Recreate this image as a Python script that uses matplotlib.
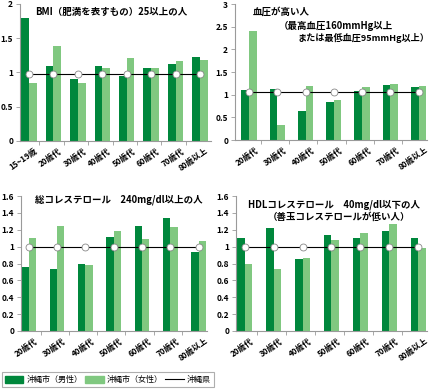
import numpy as np
import matplotlib
matplotlib.use("Agg")
import matplotlib.pyplot as plt
from matplotlib.patches import Patch
from matplotlib.lines import Line2D

plt.rcParams["font.family"] = ["Noto Sans CJK JP", "DejaVu Sans"]

# --- data (ratio, 沖縄県 = reference) ---
ages_bmi = ["15~19歳", "20歳代", "30歳代", "40歳代", "50歳代", "60歳代", "70歳代", "80歳以上"]
ages = ["20歳代", "30歳代", "40歳代", "50歳代", "60歳代", "70歳代", "80歳以上"]

bmi_male = [1.80, 1.09, 0.91, 1.09, 0.95, 1.07, 1.12, 1.22]
bmi_female = [0.84, 1.38, 0.85, 1.06, 1.21, 1.07, 1.17, 1.18]
bmi_pref = 0.98

bp_male = [1.10, 1.13, 0.64, 0.83, 1.08, 1.21, 1.16]
bp_female = [2.40, 0.33, 1.19, 0.88, 1.16, 1.23, 1.19]
bp_pref = 1.05

chol_male = [0.76, 0.74, 0.79, 1.11, 1.25, 1.34, 0.94]
chol_female = [1.10, 1.24, 0.78, 1.19, 1.09, 1.23, 1.07]
chol_pref = 0.99

hdl_male = [1.10, 1.22, 0.85, 1.14, 1.10, 1.19, 1.10]
hdl_female = [0.79, 0.73, 0.87, 1.08, 1.16, 1.27, 0.98]
hdl_pref = 0.99

DARK = "#00873c"
LIGHT = "#80c880"
GRAY = "#9a9a9a"

fig = plt.figure(figsize=(4.31, 3.92), dpi=100)


def panel(rect, labels, male, female, pref, ylim, yticks, ytl, xlim, bw):
    ax = fig.add_axes(rect)
    x = np.arange(len(labels))
    ax.bar(x, male, width=-bw, align="edge", color=DARK, zorder=2)
    ax.bar(x, female, width=bw, align="edge", color=LIGHT, zorder=2)
    ax.plot([x[0], x[-1]], [pref, pref], color="black", lw=0.8, zorder=3)
    ax.plot(x, [pref] * len(x), "o", ms=5, mfc="white", mec="#888888",
            mew=0.6, zorder=4, clip_on=False)
    ax.set_xlim(*xlim)
    ax.set_ylim(*ylim)
    ax.set_yticks(yticks)
    ax.set_yticklabels(ytl, fontsize=6, fontweight="bold")
    ax.set_xticks(x[:-1] + 0.42, minor=False)
    ax.set_xticklabels([])
    ax.tick_params(axis="x", length=3, color=GRAY, width=0.6)
    ax.tick_params(axis="y", length=3, color=GRAY, width=0.6, pad=2)
    for s in ["top", "right"]:
        ax.spines[s].set_visible(False)
    for s in ["left", "bottom"]:
        ax.spines[s].set_color(GRAY)
        ax.spines[s].set_linewidth(0.8)
    for i, lab in enumerate(labels):
        ax.text(i + 0.2, -0.04, lab, transform=ax.get_xaxis_transform(),
                rotation=35, ha="right", va="top", rotation_mode="anchor",
                fontsize=5.8, fontweight="bold")
    return ax


ax1 = panel([20 / 431, 1 - 141 / 392, 191 / 431, 137 / 392], ages_bmi,
            bmi_male, bmi_female, bmi_pref, (0, 2), [0, 0.5, 1, 1.5, 2],
            ["0", "0.5", "1", "1.5", "2"], (-0.37, 7.45), 0.315)
ax1.text(35 / 431, 1 - 12 / 392, "BMI（肥満を表すもの）25以上の人",
         transform=fig.transFigure, fontsize=6.8, fontweight="bold", va="center")

ax2 = panel([235 / 431, 1 - 140 / 392, 192 / 431, 136 / 392], ages,
            bp_male, bp_female, bp_pref, (0, 3), [0, 0.5, 1, 1.5, 2, 2.5, 3],
            ["0", "0.5", "1", "1.5", "2", "2.5", "3"], (-0.5, 6.3), 0.27)
fig.text(253 / 431, 1 - 12 / 392, "血圧が高い人", fontsize=6.8, fontweight="bold", va="center")
fig.text(279 / 431, 1 - 26 / 392, "（最高血圧160mmHg以上", fontsize=6.8, fontweight="bold", va="center")
fig.text(429 / 431, 1 - 38 / 392, "または最低血圧95mmHg以上）", fontsize=6.6,
         fontweight="bold", va="center", ha="right")

cyt = [0, 0.2, 0.4, 0.6, 0.8, 1, 1.2, 1.4, 1.6]
cytl = ["0", "0.2", "0.4", "0.6", "0.8", "1", "1.2", "1.4", "1.6"]
ax3 = panel([21 / 431, 1 - 331 / 392, 186 / 431, 135 / 392], ages,
            chol_male, chol_female, chol_pref, (0, 1.6), cyt, cytl, (-0.27, 6.3), 0.26)
fig.text(35 / 431, 1 - 200 / 392, "総コレステロール　240mg/dl以上の人",
         fontsize=6.8, fontweight="bold", va="center")

ax4 = panel([236 / 431, 1 - 331 / 392, 191 / 431, 135 / 392], ages,
            hdl_male, hdl_female, hdl_pref, (0, 1.6), cyt, cytl, (-0.3, 6.3), 0.26)
fig.text(248 / 431, 1 - 205 / 392, "HDLコレステロール　40mg/dl以下の人",
         fontsize=6.8, fontweight="bold", va="center")
fig.text(268 / 431, 1 - 217 / 392, "（善玉コレステロールが低い人）",
         fontsize=6.8, fontweight="bold", va="center")

handles = [Patch(color=DARK), Patch(color=LIGHT), Line2D([], [], color="black", lw=0.8)]
leg = fig.legend(handles, ["沖縄市（男性）", "沖縄市（女性）", "沖縄県"], ncol=3,
                 loc="lower left", bbox_to_anchor=(2 / 431, 1 - 387 / 392),
                 fontsize=5.8, frameon=True, fancybox=False, borderpad=0.35,
                 handlelength=2.3, handleheight=0.9, handletextpad=0.4,
                 columnspacing=0.3, borderaxespad=0)
leg.get_frame().set_edgecolor(GRAY)
leg.get_frame().set_linewidth(0.8)

fig.savefig("out.png", dpi=100)
